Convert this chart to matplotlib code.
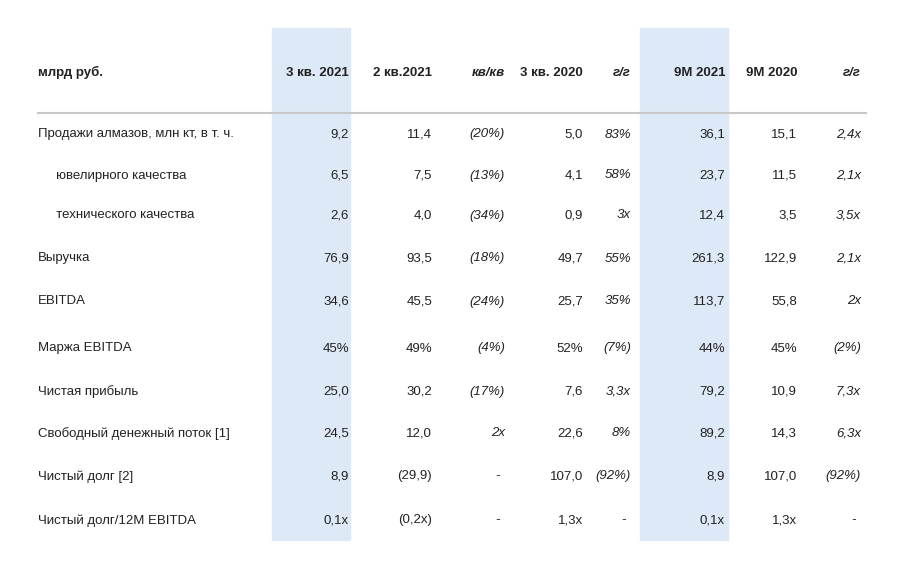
import matplotlib.pyplot as plt

# --- table data ---
headers = ["млрд руб.", "3 кв. 2021", "2 кв.2021", "кв/кв", "3 кв. 2020", "г/г", "9M 2021", "9M 2020", "г/г"]
row_labels = [
    "Продажи алмазов, млн кт, в т. ч.",
    "     ювелирного качества",
    "     технического качества",
    "Выручка",
    "EBITDA",
    "Маржа EBITDA",
    "Чистая прибыль",
    "Свободный денежный поток [1]",
    "Чистый долг [2]",
    "Чистый долг/12M EBITDA",
]
q3_2021 = ["9,2", "6,5", "2,6", "76,9", "34,6", "45%", "25,0", "24,5", "8,9", "0,1x"]
q2_2021 = ["11,4", "7,5", "4,0", "93,5", "45,5", "49%", "30,2", "12,0", "(29,9)", "(0,2x)"]
qoq = ["(20%)", "(13%)", "(34%)", "(18%)", "(24%)", "(4%)", "(17%)", "2x", "-", "-"]
q3_2020 = ["5,0", "4,1", "0,9", "49,7", "25,7", "52%", "7,6", "22,6", "107,0", "1,3x"]
yoy_q = ["83%", "58%", "3x", "55%", "35%", "(7%)", "3,3x", "8%", "(92%)", "-"]
m9_2021 = ["36,1", "23,7", "12,4", "261,3", "113,7", "44%", "79,2", "89,2", "8,9", "0,1x"]
m9_2020 = ["15,1", "11,5", "3,5", "122,9", "55,8", "45%", "10,9", "14,3", "107,0", "1,3x"]
yoy_9m = ["2,4x", "2,1x", "3,5x", "2,1x", "2x", "(2%)", "7,3x", "6,3x", "(92%)", "-"]

columns = [q3_2021, q2_2021, qoq, q3_2020, yoy_q, m9_2021, m9_2020, yoy_9m]
italic_cols = [2, 4, 7]
col_right = [349, 432, 505, 583, 631, 725, 797, 861]
row_y = [133, 174, 214, 257, 300, 347, 390, 432, 475, 519]
header_y = 71

fig = plt.figure(figsize=(9, 5.73), dpi=100)
ax = fig.add_axes([0, 0, 1, 1])
ax.set_xlim(0, 900)
ax.set_ylim(573, 0)
ax.axis("off")

shade = "#dde9f6"
ax.axvspan(272, 350, ymin=1 - 540 / 573, ymax=1 - 28 / 573, color=shade, zorder=0)
ax.axvspan(640, 728, ymin=1 - 540 / 573, ymax=1 - 28 / 573, color=shade, zorder=0)
ax.plot([38, 866], [113, 113], color="#c8c8c8", lw=1.5, zorder=1)

font = dict(family="Liberation Sans", color="#222222")
ax.text(38, header_y, headers[0], fontsize=9.5, weight="bold", va="center_baseline", ha="left", **font)
for i, (h, x) in enumerate(zip(headers[1:], col_right)):
    ax.text(x, header_y, h, fontsize=9.5, weight="bold", va="center_baseline", ha="right",
            style="italic" if i in italic_cols else "normal", **font)

for label, y in zip(row_labels, row_y):
    ax.text(38, y, label, fontsize=9.5, va="center_baseline", ha="left", **font)

for i, (col, x) in enumerate(zip(columns, col_right)):
    for val, y in zip(col, row_y):
        xx = x - 5 if val == "-" else x
        ax.text(xx, y, val, fontsize=9.5, va="center_baseline", ha="right",
                style="italic" if i in italic_cols else "normal", **font)

fig.savefig("out.png", dpi=100)
